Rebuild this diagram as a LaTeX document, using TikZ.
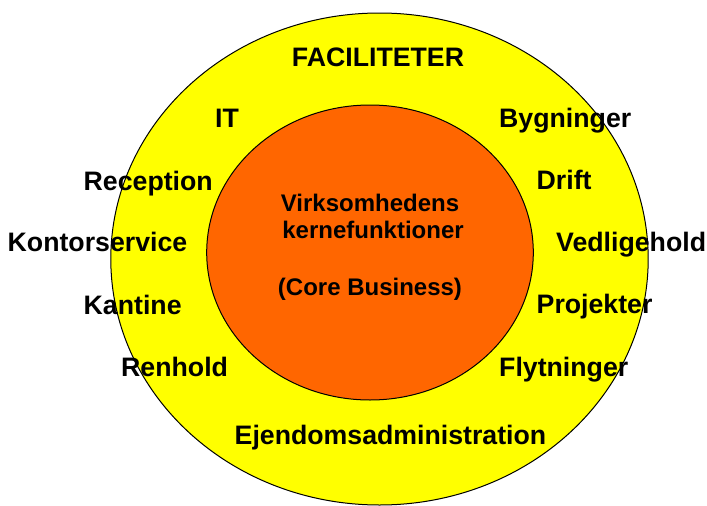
\documentclass[tikz,border=0pt]{standalone}
\usepackage{fontspec}
\setmainfont{Liberation Sans}
\definecolor{ringyellow}{HTML}{FFFF00}
\definecolor{coreorange}{HTML}{FF6600}
\tikzset{
  ring/.style={draw=black, line width=1pt},
  lbl/.style={inner sep=0pt, font=\fontsize{26.7pt}{30pt}\selectfont\bfseries},
  corelbl/.style={inner sep=0pt, font=\fontsize{24pt}{28pt}\selectfont\bfseries},
}
\begin{document}
\begin{tikzpicture}[x=1pt,y=-1pt]
\useasboundingbox (0,0) rectangle (707,506);
\fill[white] (0,0) rectangle (707,506);
% rings
\path[ring, fill=ringyellow] (379.5,259) ellipse [x radius=268.7, y radius=246];
\path[ring, fill=coreorange] (370,252.5) ellipse [x radius=163.3, y radius=147.5];
% outer labels
\node[lbl, anchor=base] (fac) at (378,66) {FACILITETER};
\node[lbl, anchor=base west] (it) at (215,127.7) {IT};
\node[lbl, anchor=base west] (byg) at (499,127.3) {Bygninger};
\node[lbl, anchor=base west] (rec) at (83.5,190.7) {Reception};
\node[lbl, anchor=base west] (drift) at (536.5,189.3) {Drift};
\node[lbl, anchor=base west] (kontor) at (7.5,251.7) {Kontorservice};
\node[lbl, anchor=base west] (vedl) at (556,251.7) {Vedligehold};
\node[lbl, anchor=base west] (kant) at (83.5,314) {Kantine};
\node[lbl, anchor=base west] (proj) at (536.5,313.3) {Projekter};
\node[lbl, anchor=base west] (renh) at (121,376) {Renhold};
\node[lbl, anchor=base west] (flyt) at (499,376) {Flytninger};
\node[lbl, anchor=base west] (ejd) at (234.5,444) {Ejendomsadministration};
% core labels
\node[corelbl, anchor=base] (virk) at (370,211) {Virksomhedens};
\node[corelbl, anchor=base] (kern) at (373,238.3) {kernefunktioner};
\node[corelbl, anchor=base] (core) at (370,295) {(Core Business)};
\end{tikzpicture}
\end{document}
